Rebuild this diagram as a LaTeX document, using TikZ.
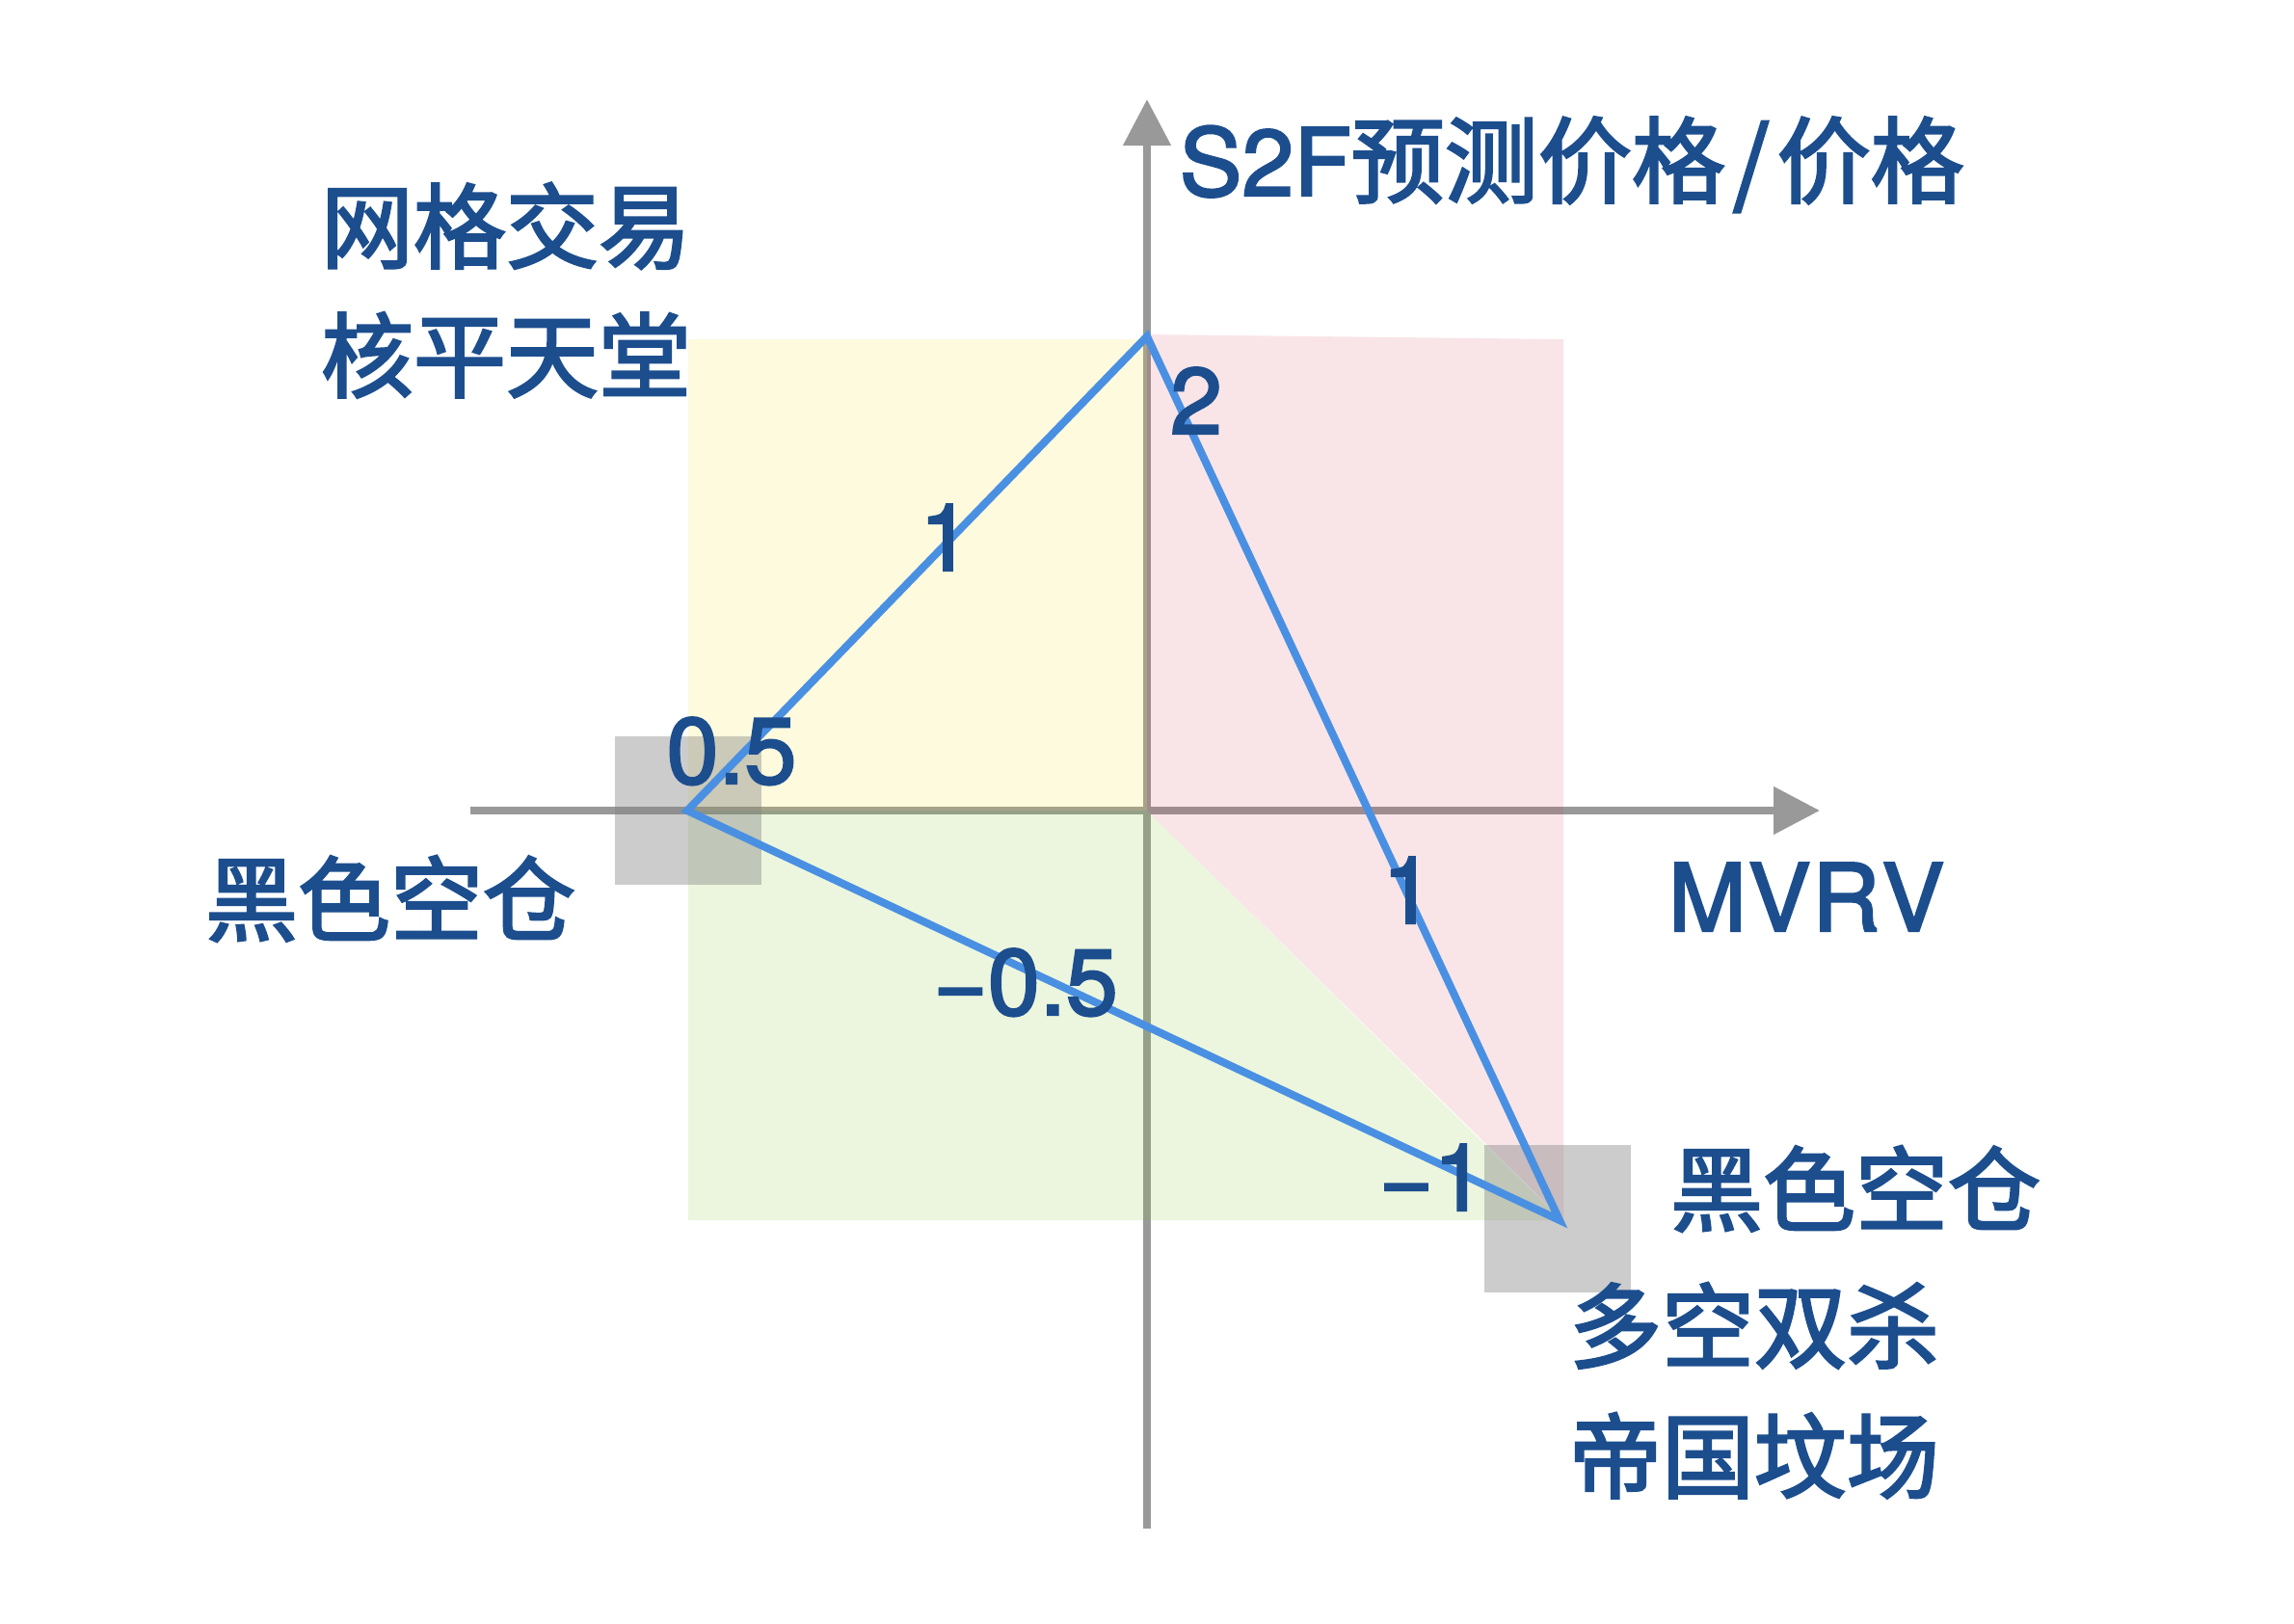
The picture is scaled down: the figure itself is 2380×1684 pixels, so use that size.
\documentclass[tikz,border=0pt]{standalone}
\usepackage{fontspec}
\newfontfamily\cjk{Noto Sans CJK SC}[FakeBold=2.6]
\newfontfamily\lat{TeX Gyre Heros}[FakeBold=2.4]
\usetikzlibrary{arrows.meta}
\definecolor{txtblue}{RGB}{28,78,142}
\definecolor{lineblue}{RGB}{74,144,226}
\definecolor{axisgray}{RGB}{153,153,153}
\definecolor{pinkc}{RGB}{208,50,74}
\definecolor{yellowc}{RGB}{245,225,40}
\definecolor{greenc}{RGB}{130,200,40}
\definecolor{sqgray}{RGB}{128,128,128}
\tikzset{
  cjklabel/.style={text=txtblue, inner sep=0pt, anchor=base, font=\cjk\fontsize{27.3}{32}\selectfont},
  numlabel/.style={text=txtblue, inner sep=0pt, anchor=base, font=\lat\fontsize{27.6}{32}\selectfont},
  axisline/.style={draw=axisgray, line width=0.08cm, -{Triangle[length=0.48cm,width=0.48cm]}},
  region/.style={fill opacity=#1},
  sq/.style={fill=sqgray, fill opacity=0.4},
  tri/.style={draw=lineblue, line width=0.08cm, line join=miter}
}
\begin{document}
\begin{tikzpicture}[x=0.01cm,y=-0.01cm]
\fill[white] (0,0) rectangle (2380,1684);
\useasboundingbox (0,0) rectangle (2380,1684);
% key points
\coordinate (O) at (1190,841);
\coordinate (A) at (713,841);
\coordinate (B) at (1190,349);
\coordinate (C) at (1618,1266);
\coordinate (xs) at (488,841);
\coordinate (xe) at (1888,841);
\coordinate (ys) at (1190,1586);
\coordinate (ye) at (1190,103);
% axes
\draw[axisline] (xs) -- (xe);
\draw[axisline] (ys) -- (ye);
% regions
\fill[yellowc, region=0.15] (714,352) -- (1190,352) -- (1190,841) -- (714,841) -- cycle;
\fill[pinkc, region=0.127] (1190,347) -- (1622,352) -- (1622,1266) -- (1190,841) -- cycle;
\fill[greenc, region=0.15] (714,841) -- (1190,841) -- (1620,1266) -- (714,1266) -- cycle;
% gray squares
\fill[sq] (638,764) rectangle (790,918);
\fill[sq] (1540,1188) rectangle (1692,1341);
% triangle
\draw[tri] (A) -- (B) -- (C) -- cycle;
% texts
\node[numlabel, anchor=base west] (title) at (1223,203) {S2F{\cjk 预测价格\kern0.08em/\kern0.08em价格}};
\node[cjklabel] (t1) at (525,271) {网格交易};
\node[cjklabel] (t2) at (525,405) {核平天堂};
\node[cjklabel] (t3) at (405,969) {黑色空仓};
\node[numlabel] (mvrv) at (1874,966) {M\kern0.02em V\kern0.02em R\kern0.02em V};
\node[cjklabel] (t4) at (1925,1270) {黑色空仓};
\node[cjklabel] (t5) at (1820,1412) {多空双杀};
\node[cjklabel] (t6) at (1820,1547) {帝国坟场};
\node[numlabel] (n2) at (1241,450) {2};
\node[numlabel] (n1a) at (981,592) {1};
\node[numlabel] (n05) at (759,813) {0.5};
\node[numlabel] (n1b) at (1461,958) {1};
\node[numlabel] (nm05) at (1064,1053) {−0.5};
\node[numlabel] (nm1) at (1486,1256) {−1};
\end{tikzpicture}
\end{document}
